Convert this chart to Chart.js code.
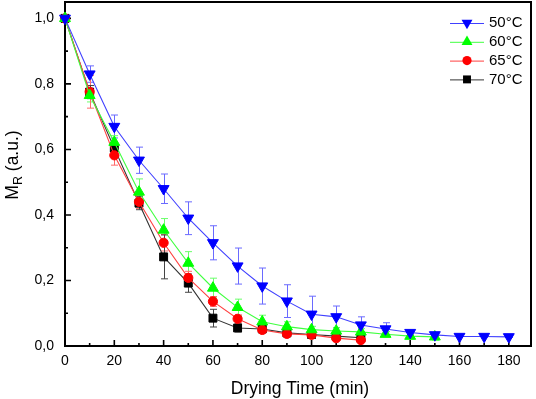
<!DOCTYPE html>
<html>
<head>
<meta charset="utf-8">
<script src="https://cdn.jsdelivr.net/npm/chart.js@4/dist/chart.umd.min.js"></script>
<style>
html,body{margin:0;padding:0;background:#fff;}
canvas{display:block;}
</style>
</head>
<body>
<canvas id="c" width="536" height="399"></canvas>
<script>
// ---- data ----
const time = [0,10,20,30,40,50,60,70,80,90,100,110,120,130,140,150,160,170,180];
const mr50  = [1.0,0.83,0.67,0.567,0.48,0.39,0.315,0.244,0.183,0.137,0.097,0.089,0.064,0.052,0.041,0.034,0.029,0.029,0.028];
const err50 = [0,0.025,0.035,0.04,0.045,0.05,0.052,0.055,0.055,0.05,0.055,0.033,0.025,0.019,0.005,0.004,0.003,0.002,0.002];
const mr60  = [1.0,0.765,0.622,0.47,0.354,0.253,0.177,0.118,0.074,0.059,0.05,0.046,0.043,0.036,0.03,0.028];
const err60 = [0,0.02,0.02,0.04,0.035,0.035,0.03,0.025,0.02,0.015,0.01,0.01,0.01,0.008,0.005,0.01];
const mr65  = [1.0,0.776,0.582,0.44,0.315,0.208,0.136,0.083,0.049,0.037,0.034,0.024,0.018];
const err65 = [0,0.05,0.03,0.02,0.025,0.02,0.015,0.012,0.008,0.006,0.005,0.004,0.004];
const mr70  = [1.0,0.775,0.604,0.436,0.272,0.192,0.085,0.055,0.052,0.04,0.035,0.03,0.025];
const err70 = [0,0.02,0.02,0.02,0.067,0.028,0.027,0.012,0.01,0.008,0.006,0.005,0.005];
const seriesLabels = ['50°C','60°C','65°C','70°C'];
const xTicks = [0,20,40,60,80,100,120,140,160,180];
const xMinor = [10,30,50,70,90,110,130,150,170];
const yTicks = [0,0.2,0.4,0.6,0.8,1.0];
const yMinor = [0.1,0.3,0.5,0.7,0.9];

// ---- styles ----
const FONT = "'Liberation Sans', Arial, Helvetica, sans-serif";
const markerColors = ['#0000ff','#00ff00','#ff0000','#000000'];
const lineColors   = ['#4040ff','#40ff40','#ff4040','#333333'];
const errColors    = ['#6a6aff','#6aff6a','#ff6a6a','#444444'];
const styles = [
  {pointStyle:'triangle', rotation:180, radius:6.3},
  {pointStyle:'triangle', rotation:0, radius:6.3},
  {pointStyle:'circle', rotation:0, radius:4.6},
  {pointStyle:'rect', rotation:0, radius:5.6}
];
const mrs = [mr50, mr60, mr65, mr70];
const errs = [err50, err60, err65, err70];

const datasets = mrs.map((mr, k) => ({
  label: seriesLabels[k],
  data: mr.map((v, i) => ({x: time[i], y: v})),
  errors: errs[k],
  borderColor: lineColors[k],
  backgroundColor: markerColors[k],
  borderWidth: 1.1,
  pointStyle: styles[k].pointStyle,
  pointRotation: styles[k].rotation,
  pointRadius: styles[k].radius,
  pointHoverRadius: styles[k].radius,
  pointBackgroundColor: markerColors[k],
  pointBorderColor: markerColors[k],
  pointBorderWidth: 1,
  tension: 0,
  fill: false,
  clip: false
}));

const framePlugin = {
  id: 'frame',
  beforeDatasetsDraw(chart) {
    const {ctx, chartArea: a, scales: {x, y}} = chart;
    ctx.save();
    // error bars
    chart.data.datasets.forEach((ds, k) => {
      ctx.strokeStyle = errColors[k];
      ctx.lineWidth = 1;
      ds.data.forEach((p, i) => {
        const e = ds.errors[i];
        if (!e) return;
        const px = Math.round(x.getPixelForValue(p.x)) + 0.5;
        const y1 = y.getPixelForValue(p.y + e);
        const y2 = y.getPixelForValue(p.y - e);
        ctx.beginPath();
        ctx.moveTo(px, y1); ctx.lineTo(px, y2);
        ctx.moveTo(px - 3.5, y1); ctx.lineTo(px + 3.5, y1);
        ctx.moveTo(px - 3.5, y2); ctx.lineTo(px + 3.5, y2);
        ctx.stroke();
      });
    });
    // frame
    ctx.strokeStyle = '#000';
    ctx.lineWidth = 2;
    ctx.strokeRect(a.left, a.top, a.right - a.left, a.bottom - a.top);
    // inward ticks
    ctx.lineWidth = 1.6;
    ctx.beginPath();
    xTicks.forEach(v => { const px = x.getPixelForValue(v); ctx.moveTo(px, a.bottom); ctx.lineTo(px, a.bottom - 6); });
    xMinor.forEach(v => { const px = x.getPixelForValue(v); ctx.moveTo(px, a.bottom); ctx.lineTo(px, a.bottom - 3); });
    yTicks.forEach(v => { const py = y.getPixelForValue(v); ctx.moveTo(a.left, py); ctx.lineTo(a.left + 6, py); });
    yMinor.forEach(v => { const py = y.getPixelForValue(v); ctx.moveTo(a.left, py); ctx.lineTo(a.left + 3, py); });
    ctx.stroke();
    ctx.restore();
  },
  afterDraw(chart) {
    const {ctx} = chart;
    ctx.save();
    // x title
    ctx.fillStyle = '#000';
    ctx.font = '17.5px ' + FONT;
    ctx.textAlign = 'center';
    ctx.textBaseline = 'alphabetic';
    ctx.fillText('Drying Time (min)', 300, 394);
    // y title with subscript
    ctx.translate(18, 165);
    ctx.rotate(-Math.PI / 2);
    const big = '17.5px ' + FONT, small = '12.5px ' + FONT;
    ctx.font = big; const wM = ctx.measureText('M').width; const wRest = ctx.measureText(' (a.u.)').width;
    ctx.font = small; const wR = ctx.measureText('R').width;
    let sx = -(wM + wR + wRest) / 2;
    ctx.textAlign = 'left';
    ctx.font = big; ctx.fillText('M', sx, 0); sx += wM;
    ctx.font = small; ctx.fillText('R', sx, 4); sx += wR;
    ctx.font = big; ctx.fillText(' (a.u.)', sx, 0);
    ctx.restore();
    // legend
    ctx.save();
    ctx.font = '15px ' + FONT;
    ctx.textBaseline = 'middle';
    ctx.textAlign = 'left';
    seriesLabels.forEach((lab, k) => {
      const cy = 23 + k * 18.8;
      ctx.strokeStyle = lineColors[k];
      ctx.lineWidth = 1;
      ctx.beginPath(); ctx.moveTo(450, cy + 0.5); ctx.lineTo(484, cy + 0.5); ctx.stroke();
      ctx.fillStyle = markerColors[k];
      const mx = 467, r = styles[k].radius;
      ctx.beginPath();
      if (styles[k].pointStyle === 'triangle') {
        const s = styles[k].rotation === 180 ? -1 : 1;
        ctx.moveTo(mx, cy - s * r);
        ctx.lineTo(mx + r * 0.866, cy + s * r * 0.5);
        ctx.lineTo(mx - r * 0.866, cy + s * r * 0.5);
        ctx.closePath();
      } else if (styles[k].pointStyle === 'circle') {
        ctx.arc(mx, cy, r, 0, Math.PI * 2);
      } else {
        const h = r * Math.SQRT1_2;
        ctx.rect(mx - h, cy - h, 2 * h, 2 * h);
      }
      ctx.fill();
      ctx.fillStyle = '#000';
      ctx.fillText(lab, 489, cy);
    });
    ctx.restore();
  }
};

new Chart(document.getElementById('c'), {
  type: 'line',
  data: {datasets},
  options: {
    responsive: false,
    animation: false,
    layout: {autoPadding: false, padding: {top: 2, right: 5, left: 0, bottom: 0}},
    plugins: {legend: {display: false}, tooltip: {enabled: false}, title: {display: false}},
    scales: {
      x: {
        type: 'linear', min: 0, max: 189,
        grid: {display: false, drawTicks: false},
        border: {display: false},
        afterBuildTicks: s => { s.ticks = xTicks.map(v => ({value: v})); },
        afterFit: s => { s.height = 53; s.paddingLeft = 0; s.paddingRight = 0; s.paddingTop = 0; s.paddingBottom = 0; },
        ticks: {padding: 7, color: '#000', font: {family: FONT, size: 14}, maxRotation: 0, autoSkip: false,
                callback: v => String(v)}
      },
      y: {
        type: 'linear', min: 0, max: 1.05,
        grid: {display: false, drawTicks: false},
        border: {display: false},
        afterBuildTicks: s => { s.ticks = yTicks.map(v => ({value: v})); },
        afterFit: s => { s.width = 65; s.paddingLeft = 0; s.paddingRight = 0; s.paddingTop = 0; s.paddingBottom = 0; },
        ticks: {padding: 11, color: '#000', font: {family: FONT, size: 14}, autoSkip: false,
                callback: v => v.toFixed(1).replace('.', ',')}
      }
    }
  },
  plugins: [framePlugin]
});
</script>
</body>
</html>
